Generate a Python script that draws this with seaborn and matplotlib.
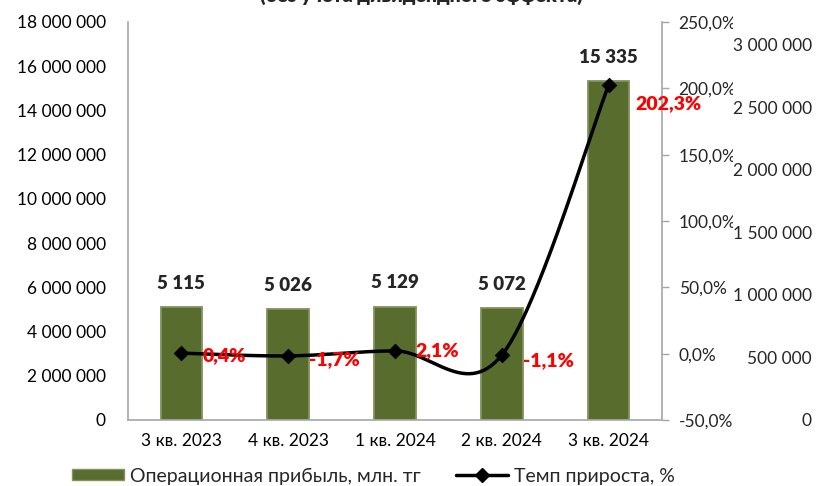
import numpy as np
import pandas as pd
import matplotlib
matplotlib.use("Agg")
import matplotlib.pyplot as plt
import seaborn as sns
from matplotlib.patches import Patch
from matplotlib.lines import Line2D
from matplotlib.transforms import Bbox

categories = ["3 кв. 2023", "4 кв. 2023", "1 кв. 2024", "2 кв. 2024", "3 кв. 2024"]
profit = [5115000, 5026000, 5129000, 5072000, 15335000]
profit_labels = ["5 115", "5 026", "5 129", "5 072", "15 335"]
growth = [0.4, -1.7, 2.1, -1.1, 202.3]
growth_labels = ["0,4%", "-1,7%", "2,1%", "-1,1%", "202,3%"]
left_ticks = list(range(0, 18000001, 2000000))
pct_ticks = [-50, 0, 50, 100, 150, 200, 250]
third_ticks = [0, 500000, 1000000, 1500000, 2000000, 2500000, 3000000]
title = "(без учета дивидендного эффекта)"
legend_bar = "Операционная прибыль, млн. тг"
legend_line = "Темп прироста, %"

sns.set_style("white")
plt.rcParams["font.family"] = ["Lato", "DejaVu Sans"]

W, H = 819, 486
fig = plt.figure(figsize=(W / 100, H / 100), dpi=100)
L, R, T, B = 128, 662, 22, 420
ax = fig.add_axes([L / W, 1 - B / H, (R - L) / W, (B - T) / H])

df = pd.DataFrame({"cat": categories, "val": profit})
bar_color = "#586C2E"
sns.barplot(data=df, x="cat", y="val", color=bar_color, width=0.39,
            saturation=1, edgecolor="#83925E", linewidth=1.3, ax=ax)
ax.set_xlim(-0.5, 4.5)
ax.set_ylim(0, 18000000)
ax.set_yticks(left_ticks)
ax.set_yticklabels([f"{v:,}".replace(",", " ") for v in left_ticks])
ax.set_xlabel("")
ax.set_ylabel("")
ax.tick_params(axis="both", labelsize=12.5, length=0, colors="black")
ax.tick_params(axis="y", pad=16)
ax.tick_params(axis="x", pad=9)
for s in ["top", "right"]:
    ax.spines[s].set_visible(False)
for s in ["left", "bottom"]:
    ax.spines[s].set_color("#A6A6A6")
    ax.spines[s].set_linewidth(1.2)

for i, (v, lab) in enumerate(zip(profit, profit_labels)):
    ax.annotate(lab, (i, v), xytext=(0, 11), textcoords="offset points",
                ha="center", va="bottom", fontsize=13.5, fontweight="heavy")

# percentage axis
ax2 = ax.twinx()
ax2.set_ylim(-50, 250)
ax2.set_yticks(pct_ticks)
ax2.set_yticklabels([f"{v},0%" for v in pct_ticks])
ax2.tick_params(axis="y", labelsize=12.5, length=5, width=1, color="#A6A6A6", pad=7)
for s in ["top", "left", "bottom"]:
    ax2.spines[s].set_visible(False)
ax2.spines["right"].set_color("#A6A6A6")
ax2.spines["right"].set_linewidth(1.2)
clip = Bbox([[0, 0], [733, H]])
for lbl in ax2.get_yticklabels():
    lbl.set_clip_box(clip)
    lbl.set_clip_on(True)

# smooth curve (Excel-style bezier smoothing) through the points
x = np.arange(len(growth), dtype=float)
y = np.array(growth, dtype=float)
px = np.concatenate([[x[0]], x, [x[-1]]])
py = np.concatenate([[y[0]], y, [y[-1]]])
t = np.linspace(0, 1, 60)
sx, sy = [], []
for k in range(len(x) - 1):
    p0 = np.array([px[k + 1], py[k + 1]])
    p3 = np.array([px[k + 2], py[k + 2]])
    c1 = p0 + (np.array([px[k + 2], py[k + 2]]) - np.array([px[k], py[k]])) / 6
    c2 = p3 - (np.array([px[k + 3], py[k + 3]]) - np.array([px[k + 1], py[k + 1]])) / 6
    bx = (1 - t) ** 3 * p0[0] + 3 * (1 - t) ** 2 * t * c1[0] + 3 * (1 - t) * t ** 2 * c2[0] + t ** 3 * p3[0]
    by = (1 - t) ** 3 * p0[1] + 3 * (1 - t) ** 2 * t * c1[1] + 3 * (1 - t) * t ** 2 * c2[1] + t ** 3 * p3[1]
    sx.extend(bx)
    sy.extend(by)
ax2.plot(sx, sy, color="black", linewidth=2.5, zorder=3)
sns.scatterplot(x=x, y=y, marker="D", s=55, color="black", edgecolor="black", ax=ax2, zorder=4)
offsets = [(15, -2), (15, -3), (15, 0), (15, -4), (19, -13)]
for i, (v, lab) in enumerate(zip(growth, growth_labels)):
    ax2.annotate(lab, (i, v), xytext=offsets[i], textcoords="offset points",
                 ha="left", va="center", fontsize=14, fontweight="heavy", color="#FF0000",
                 zorder=5)
ax2.set_xlim(-0.5, 4.5)

# third axis
ax3 = ax.twinx()
ax3.set_ylim(0, 3180000)
ax3.set_yticks(third_ticks)
ax3.set_yticklabels([f"{v:,}".replace(",", " ") for v in third_ticks])
ax3.tick_params(axis="y", labelsize=12.5, length=0, pad=(812 - 662) * 0.72)
for lbl in ax3.get_yticklabels():
    lbl.set_ha("right")
for s in ax3.spines.values():
    s.set_visible(False)
ax3.set_xlim(-0.5, 4.5)

fig.text(0.514, 1 - 2 / H, title, ha="center", va="baseline",
         fontsize=14, fontweight="heavy")

handles = [Patch(facecolor=bar_color, edgecolor="#83925E"),
           Line2D([0], [0], color="black", linewidth=2.5, marker="D", markersize=7)]
fig.legend(handles, [legend_bar, legend_line], loc="center",
           bbox_to_anchor=(0.456, 1 - 476 / H), ncol=2, frameon=False,
           fontsize=14, handlelength=2.7, handleheight=0.5, columnspacing=1.8,
           handletextpad=0.3, borderaxespad=0)

fig.savefig("out.png", dpi=100)
